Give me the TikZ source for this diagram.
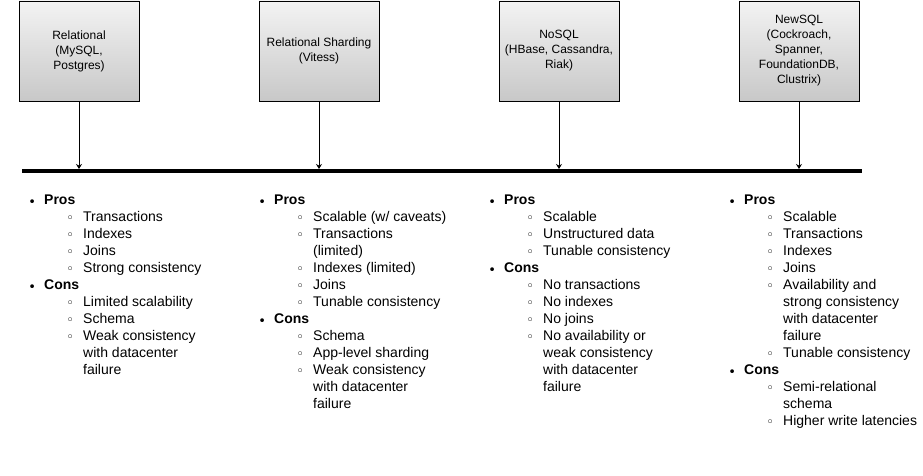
\documentclass[tikz,border=0pt]{standalone}
\usepackage{fontspec}
\setmainfont{Liberation Sans}
\newfontfamily\symfont{DejaVu Sans}
\usetikzlibrary{arrows.meta}

\definecolor{boxtop}{RGB}{243,243,243}
\definecolor{boxbot}{RGB}{200,200,200}

% list lines: heading, sub item, continued sub item
\newcommand{\lhead}[1]{\makebox[12pt]{\raisebox{-2.5pt}{\symfont\fontsize{13}{13}\selectfont\char"2022}}\hspace{6pt}\textbf{#1}}
\newcommand{\litem}[1]{\hspace*{38pt}\makebox[12pt]{\raisebox{-1.5pt}{\symfont\fontsize{13}{13}\selectfont\char"25E6}}\hspace{7pt}#1}
\newcommand{\lcont}[1]{\hspace*{57pt}#1}

\begin{document}
\begin{tikzpicture}[x=1pt,y=1pt,yscale=-1,
  dbbox/.style={draw, line width=0.9pt, top color=boxtop, bottom color=boxbot,
    minimum width=120pt, minimum height=100pt, inner sep=2pt, align=center,
    font=\fontsize{12}{15}\selectfont},
  pclist/.style={anchor=north west, inner sep=0pt, align=left,
    font=\fontsize{14}{17}\selectfont},
  tip/.style={-{Stealth[length=5pt,width=6pt]}, line width=0.8pt, shorten >=2pt}]
\useasboundingbox (0,0) rectangle (923,476);

%Shape: Rectangle
\draw (79,51) node [dbbox] (rel) {Relational\\(MySQL,\\Postgres)};
\draw (319,51) node [dbbox] (shard) {Relational Sharding\\(Vitess)};
\draw (559,51) node [dbbox] (nosql) {NoSQL\\(HBase, Cassandra,\\Riak)};
\draw (799,51) node [dbbox] (newsql) {NewSQL\\(Cockroach,\\Spanner,\\FoundationDB,\\Clustrix)};

%Straight Lines: timeline
\coordinate (tl) at (22,171);
\coordinate (tr) at (862,171);
\draw [line width=4pt] (tl) -- (tr);

%Straight Lines
\draw [tip] (rel) -- (rel |- tl);
\draw [tip] (shard) -- (shard |- tl);
\draw [tip] (nosql) -- (nosql |- tl);
\draw [tip] (newsql) -- (newsql |- tl);

% Text Node
\draw (26,194.5) node [pclist] (relpc) {\lhead{Pros}\\
  \litem{Transactions}\\ \litem{Indexes}\\ \litem{Joins}\\ \litem{Strong consistency}\\
  \lhead{Cons}\\
  \litem{Limited scalability}\\ \litem{Schema}\\ \litem{Weak consistency}\\
  \lcont{with datacenter}\\ \lcont{failure}};
% Text Node
\draw (256,194.5) node [pclist] (shardpc) {\lhead{Pros}\\
  \litem{Scalable (w/ caveats)}\\ \litem{Transactions}\\ \lcont{(limited)}\\
  \litem{Indexes (limited)}\\ \litem{Joins}\\ \litem{Tunable consistency}\\
  \lhead{Cons}\\
  \litem{Schema}\\ \litem{App-level sharding}\\ \litem{Weak consistency}\\
  \lcont{with datacenter}\\ \lcont{failure}};
% Text Node
\draw (486,194.5) node [pclist] (nosqlpc) {\lhead{Pros}\\
  \litem{Scalable}\\ \litem{Unstructured data}\\ \litem{Tunable consistency}\\
  \lhead{Cons}\\
  \litem{No transactions}\\ \litem{No indexes}\\ \litem{No joins}\\
  \litem{No availability or}\\ \lcont{weak consistency}\\
  \lcont{with datacenter}\\ \lcont{failure}};
% Text Node
\draw (726,194.5) node [pclist] (newsqlpc) {\lhead{Pros}\\
  \litem{Scalable}\\ \litem{Transactions}\\ \litem{Indexes}\\ \litem{Joins}\\
  \litem{Availability and}\\ \lcont{strong consistency}\\
  \lcont{with datacenter}\\ \lcont{failure}\\ \litem{Tunable consistency}\\
  \lhead{Cons}\\
  \litem{Semi-relational}\\ \lcont{schema}\\ \litem{Higher write latencies}};

\end{tikzpicture}
\end{document}
